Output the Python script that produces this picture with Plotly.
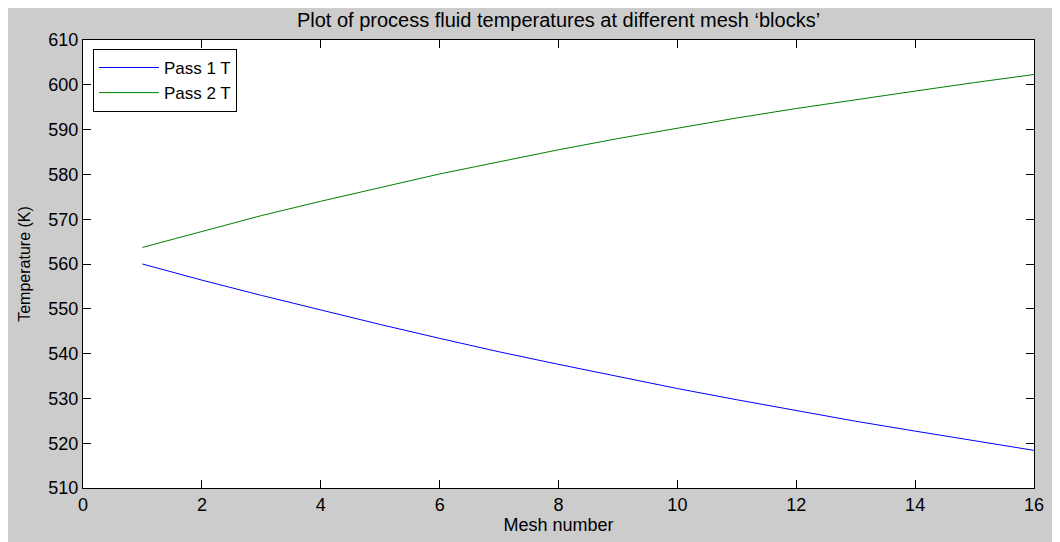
import plotly.graph_objects as go

mesh = list(range(1, 17))
pass1_T = [560.0, 556.4, 553.0, 549.7, 546.5, 543.4, 540.4, 537.6, 534.9, 532.2,
           529.7, 527.3, 524.9, 522.7, 520.5, 518.4]
pass2_T = [563.7, 567.3, 570.8, 574.0, 577.1, 580.1, 582.8, 585.5, 588.0, 590.3,
           592.6, 594.7, 596.7, 598.6, 600.5, 602.3]
x_ticks = list(range(0, 17, 2))
y_ticks = list(range(510, 611, 10))

FONT = "Liberation Sans, Arial, sans-serif"
W, H = 1052, 534  # page body adds an 8px offset

fig = go.Figure()
fig.add_trace(go.Scatter(x=mesh, y=pass1_T, mode="lines", name="Pass 1 T",
                         line=dict(color="#0000ff", width=1)))
fig.add_trace(go.Scatter(x=mesh, y=pass2_T, mode="lines", name="Pass 2 T",
                         line=dict(color="#008000", width=1)))

axis_common = dict(
    showgrid=False, zeroline=False, showline=True, linecolor="#000000", linewidth=1,
    mirror="allticks", ticks="inside", ticklen=8, tickcolor="#000000", tickwidth=1,
    tickfont=dict(family=FONT, size=18, color="#000000"),
)

fig.update_layout(
    width=W, height=H,
    margin=dict(l=75, r=26, t=32, b=54),
    paper_bgcolor="#cccccc", plot_bgcolor="#ffffff",
    font=dict(family=FONT, size=16, color="#000000"),
    title=dict(text="Plot of process fluid temperatures at different mesh \u2018blocks\u2019",
               x=550.5 / W, xanchor="center", y=1 - 12 / H, yanchor="middle",
               font=dict(family=FONT, size=20, color="#000000")),
    xaxis=dict(range=[0, 16], tickvals=x_ticks,
               title=dict(text="Mesh number", standoff=3,
                          font=dict(family=FONT, size=18)),
               **axis_common),
    yaxis=dict(range=[510, 610], tickvals=y_ticks,
               title=dict(text="Temperature (K)", standoff=13,
                          font=dict(family=FONT, size=16)),
               **axis_common),
    legend=dict(x=0.0105, y=0.98, xanchor="left", yanchor="top",
                bgcolor="#ffffff", bordercolor="#000000", borderwidth=1,
                font=dict(family=FONT, size=17, color="#000000"),
                itemwidth=60, tracegroupgap=0),
    showlegend=True,
)

fig.write_html("out.html")
